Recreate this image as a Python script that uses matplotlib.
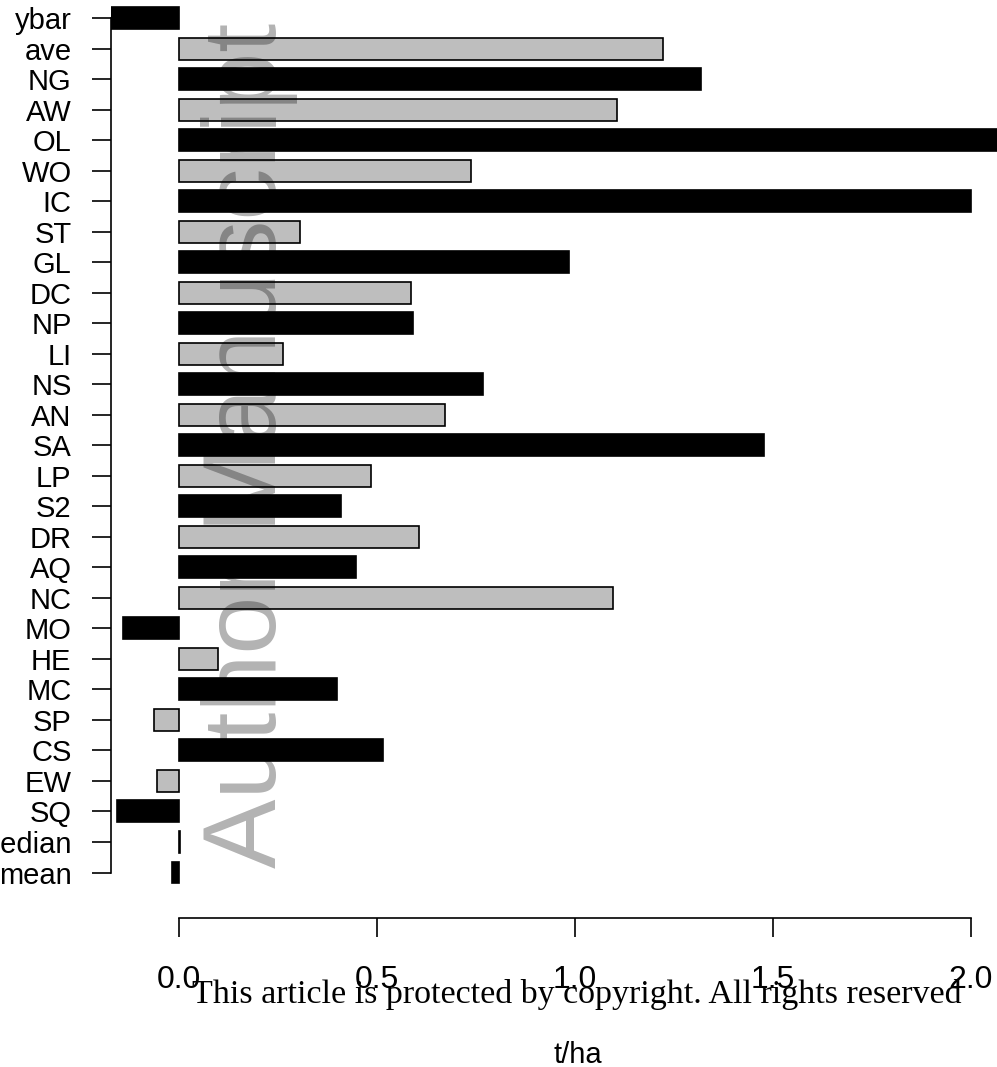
import matplotlib
matplotlib.use("Agg")
import matplotlib.pyplot as plt
import numpy as np

# site codes, listed top to bottom
sites = ['ybar', 'ave', 'NG', 'AW', 'OL', 'WO', 'IC', 'ST', 'GL', 'DC',
         'NP', 'LI', 'NS', 'AN', 'SA', 'LP', 'S2', 'DR', 'AQ', 'NC',
         'MO', 'HE', 'MC', 'SP', 'CS', 'EW', 'SQ', 'median', 'mean']
# yield difference (t/ha)
values = [-0.174, 1.222, 1.318, 1.107, 2.12, 0.737, 2.0, 0.306, 0.985, 0.586,
          0.591, 0.263, 0.768, 0.672, 1.477, 0.485, 0.409, 0.606, 0.447, 1.096,
          -0.141, 0.099, 0.398, -0.062, 0.514, -0.056, -0.156, 0.002, -0.018]
xticks = [0.0, 0.5, 1.0, 1.5, 2.0]

W, H = 997, 1067
fig = plt.figure(figsize=(W / 100, H / 100), dpi=100)

# axes laid out in pixels: left axis line at x=110.5, bottom axis line at y=918
left_px, bottom_px = 110.5, 918
zero_px, px_per_unit = 179, 396.0
ax = fig.add_axes([left_px / W, 1 - bottom_px / H, 1 - left_px / W, bottom_px / H])

n = len(sites)
ypos = np.arange(n)[::-1]
colors = ['black' if i % 2 == 0 else '#bebebe' for i in range(n)]

ax.barh(ypos, values, height=0.72, color=colors, edgecolor='black',
        linewidth=1.2, zorder=3)

ax.set_xlim((left_px - zero_px) / px_per_unit, (W - zero_px) / px_per_unit)
row_px = 30.51
ax.set_ylim(-(bottom_px - 872.5) / row_px, 872.5 / row_px)

for s in ['top', 'right']:
    ax.spines[s].set_visible(False)
for s in ['left', 'bottom']:
    ax.spines[s].set_linewidth(1.2)
ax.spines['left'].set_bounds(0, n - 1)
ax.spines['bottom'].set_bounds(0, 2)

ax.set_yticks(ypos)
ax.set_yticklabels(sites, fontsize=21, family='Liberation Sans')
ax.set_xticks(xticks)
ax.set_xticklabels([f'{t:.1f}' for t in xticks], fontsize=23,
                   family='Liberation Sans')
ax.tick_params(axis='y', length=14, width=1.2, pad=14)
ax.tick_params(axis='x', length=14, width=1.2, pad=20)
ax.patch.set_visible(False)

fig.text(578 / W, 1 - 1063 / H, 't/ha', fontsize=21, family='Liberation Sans',
         ha='center', va='baseline')

# publisher watermarks; a translucent black overlay darkens like a multiply
fig.text(276 / W, 1 - 868 / H, 'Author Manuscript', fontsize=75,
         family='Liberation Sans', color='black', alpha=0.30, rotation=90,
         rotation_mode='anchor', ha='left', va='baseline', zorder=10)
fig.text(192 / W, 1 - 1003 / H,
         'This article is protected by copyright. All rights reserved',
         fontsize=24.5, family='Liberation Serif', color='black',
         ha='left', va='baseline')

fig.savefig('out.png', dpi=100)
